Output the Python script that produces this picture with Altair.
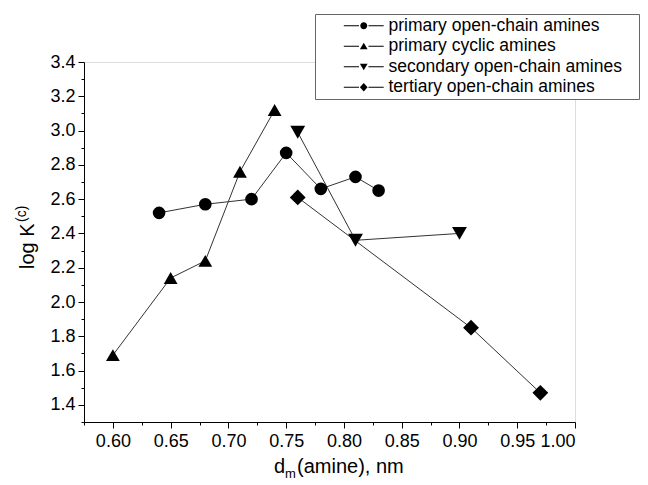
import altair as alt
import pandas as pd

series_names = [
    "primary open-chain amines",
    "primary cyclic amines",
    "secondary open-chain amines",
    "tertiary open-chain amines",
]

prim_open_x = [0.64, 0.68, 0.72, 0.75, 0.78, 0.81, 0.83]
prim_open_y = [2.52, 2.57, 2.60, 2.87, 2.66, 2.73, 2.65]

prim_cyc_x = [0.60, 0.65, 0.68, 0.71, 0.74]
prim_cyc_y = [1.69, 2.14, 2.24, 2.76, 3.12]

sec_open_x = [0.76, 0.81, 0.90]
sec_open_y = [2.99, 2.36, 2.40]

tert_open_x = [0.76, 0.91, 0.97]
tert_open_y = [2.61, 1.85, 1.47]

x_major = [0.60, 0.65, 0.70, 0.75, 0.80, 0.85, 0.90, 0.95, 1.00]
x_minor = [0.575, 0.625, 0.675, 0.725, 0.775, 0.825, 0.875, 0.925, 0.975]
y_major = [1.4, 1.6, 1.8, 2.0, 2.2, 2.4, 2.6, 2.8, 3.0, 3.2, 3.4]
y_minor = [1.3, 1.5, 1.7, 1.9, 2.1, 2.3, 2.5, 2.7, 2.9, 3.1, 3.3]

rows = []
for name, xs, ys in zip(series_names,
                        [prim_open_x, prim_cyc_x, sec_open_x, tert_open_x],
                        [prim_open_y, prim_cyc_y, sec_open_y, tert_open_y]):
    for i, (a, b) in enumerate(zip(xs, ys)):
        rows.append({"series": name, "d": a, "logK": b, "order": i})
df = pd.DataFrame(rows)

FONT = "Liberation Sans"
xscale = alt.Scale(domain=[0.575, 1.0], nice=False, zero=False)
yscale = alt.Scale(domain=[1.3, 3.4], nice=False, zero=False)

base = alt.Chart(df)

lines = base.mark_line(color="#333333", strokeWidth=1).encode(
    x=alt.X("d:Q", scale=xscale,
            axis=alt.Axis(values=x_major, format=".2f", title=None, tickSize=6,
                          orient="bottom",
                          labelFontSize=18, labelFont=FONT, labelColor="black",
                          domainColor="black", tickColor="black", labelPadding=4,
                          grid=False)),
    y=alt.Y("logK:Q", scale=yscale,
            axis=alt.Axis(values=y_major, format=".1f", title=None, tickSize=6,
                          orient="left",
                          labelFontSize=18, labelFont=FONT, labelColor="black",
                          domainColor="black", tickColor="black", labelPadding=3,
                          grid=False)),
    detail="series:N",
    order="order:O",
)

minor = base.mark_point(opacity=0).encode(
    x=alt.X("d:Q", scale=xscale,
            axis=alt.Axis(values=x_minor, labels=False, domain=False, title=None,
                          orient="bottom",
                          tickSize=3, tickColor="black", grid=False)),
    y=alt.Y("logK:Q", scale=yscale,
            axis=alt.Axis(values=y_minor, labels=False, domain=False, title=None,
                          orient="left",
                          tickSize=3, tickColor="black", grid=False)),
)

points = base.mark_point(filled=True, color="black", opacity=1).encode(
    x=alt.X("d:Q", scale=xscale, axis=None),
    y=alt.Y("logK:Q", scale=yscale, axis=None),
    shape=alt.Shape("series:N",
                    scale=alt.Scale(domain=series_names,
                                    range=["circle", "triangle-up", "triangle-down", "diamond"]),
                    legend=None),
    size=alt.Size("series:N",
                  scale=alt.Scale(domain=series_names, range=[160, 250, 200, 210]),
                  legend=None),
)

# dashes drawn as thin filled bars on either side of the marker
dash = ("M-5.7,-0.15L-1.35,-0.15L-1.35,0.15L-5.7,0.15Z"
        "M1.35,-0.15L5.7,-0.15L5.7,0.15L1.35,0.15Z")
legend_shapes = [
    dash + "M-1,0A1,1 0 1,0 1,0A1,1 0 1,0 -1,0Z",
    dash + "M0,-1L1.1,0.85L-1.1,0.85Z",
    dash + "M0,1L1.1,-0.85L-1.1,-0.85Z",
    dash + "M0,-1.2L1.1,0L0,1.2L-1.1,0Z",
]

legend_layer = base.mark_point(filled=True, color="black", opacity=0).encode(
    x=alt.X("d:Q", scale=xscale, axis=None),
    y=alt.Y("logK:Q", scale=yscale, axis=None),
    shape=alt.Shape("series:N",
                    scale=alt.Scale(domain=series_names, range=legend_shapes),
                    legend=alt.Legend(title="\u00a0", titleOrient="right",
                                      titleFontSize=1, titlePadding=14,
                                      orient="none", legendX=231, legendY=-48,
                                      symbolSize=49, symbolOpacity=1,
                                      symbolFillColor="black",
                                      symbolStrokeWidth=0, symbolOffset=37,
                                      labelFont=FONT,
                                      labelFontSize=17.5, labelColor="black",
                                      labelOffset=16, rowPadding=1.5, padding=3,
                                      strokeColor="#666666", fillColor="white",
                                      labelLimit=400)),
)

title_df = pd.DataFrame({"t": ["log K", "(c)", "d", "m", "(amine), nm"]})


def txt(label, x, y, size, angle=0, align="left"):
    return alt.Chart(title_df).transform_filter(
        alt.datum.t == label
    ).mark_text(font=FONT, fontSize=size, color="black", angle=angle,
                align=align, baseline="alphabetic").encode(
        text="t:N", x=alt.value(x), y=alt.value(y))


ytitle1 = txt("log K", -50, 207, 20, angle=270)
ytitle2 = txt("(c)", -58, 160, 14, angle=270)
xtitle1 = txt("d", 190, 411, 20)
xtitle2 = txt("m", 201, 416, 13)
xtitle3 = txt("(amine), nm", 213, 411, 20)

chart = alt.layer(
    lines, minor, points, legend_layer,
    ytitle1, ytitle2, xtitle1, xtitle2, xtitle3,
).resolve_scale(shape="independent", size="independent").resolve_axis(
    x="independent", y="independent"
).resolve_legend(shape="independent").properties(
    width=491, height=360,
    autosize=alt.AutoSizeParams(type="none"),
    padding={"left": 76, "top": 54, "right": 65, "bottom": 60},
).configure_view(stroke=None).configure(background="white")

chart.save("out.html", embed_options={"renderer": "svg", "actions": False})
